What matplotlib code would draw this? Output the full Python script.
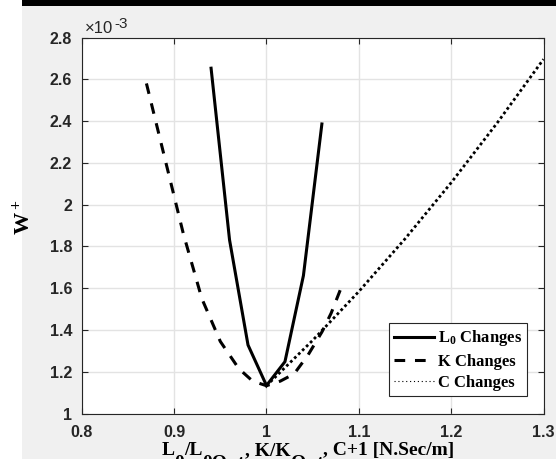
import matplotlib
matplotlib.use("Agg")
import matplotlib.pyplot as plt
from matplotlib.lines import Line2D
from matplotlib.patches import Rectangle
from matplotlib.transforms import IdentityTransform

# ---- data (W+ in units of 1e-3) ----
L0_x = [0.94, 0.96, 0.98, 1.00, 1.02, 1.04, 1.06]
L0_y = [2.653, 1.831, 1.328, 1.134, 1.248, 1.660, 2.386]

K_x = [0.87, 0.91, 0.93, 0.95, 0.97, 0.985, 1.0, 1.015, 1.03, 1.045, 1.06, 1.07, 1.083]
K_y = [2.58, 1.86, 1.55, 1.345, 1.215, 1.155, 1.133, 1.155, 1.19, 1.28, 1.39, 1.48, 1.626]

C_x = [1.0, 1.05, 1.1, 1.15, 1.2, 1.25, 1.3]
C_y = [1.133, 1.35, 1.584, 1.836, 2.105, 2.392, 2.696]

x_ticks = [0.8, 0.9, 1.0, 1.1, 1.2, 1.3]
x_ticklabels = ["0.8", "0.9", "1", "1.1", "1.2", "1.3"]
y_ticks = [1.0, 1.2, 1.4, 1.6, 1.8, 2.0, 2.2, 2.4, 2.6, 2.8]
y_ticklabels = ["1", "1.2", "1.4", "1.6", "1.8", "2", "2.2", "2.4", "2.6", "2.8"]
legend_labels = [r"L$_0$ Changes", "K Changes", "C Changes"]
# x label pieces: (text, is_subscript)
xlabel_parts = [("L", False), ("0", True), ("/L", False), ("0Opt", True),
                (", K/K", False), ("Opt", True), (", C+1 [N.Sec/m]", False)]

plt.rcParams["mathtext.fontset"] = "custom"
plt.rcParams["mathtext.rm"] = "Liberation Serif:bold"
plt.rcParams["mathtext.it"] = "Liberation Serif:bold"
plt.rcParams["mathtext.bf"] = "Liberation Serif:bold"

W, H = 556, 459
fig = plt.figure(figsize=(W / 100, H / 100), dpi=100)
fig.patch.set_facecolor("#f0f0f0")
fig.patches.append(Rectangle((0, 0), 21.7 / W, 1, transform=fig.transFigure,
                             facecolor="white", edgecolor="none", zorder=-10))
fig.patches.append(Rectangle((21.7 / W, 1 - 6 / H), 1, 6 / H, transform=fig.transFigure,
                             facecolor="black", edgecolor="none", zorder=-10))

ax = fig.add_axes([81.8 / W, 1 - 413.5 / H, (543.5 - 81.8) / W, (413.5 - 37.5) / H])
ax.set_facecolor("white")

lw = 2.2
dash = (0, (3.5, 3.2))
ax.plot(L0_x, L0_y, color="black", lw=lw, linestyle="-", solid_joinstyle="miter")
ax.plot(K_x, K_y, color="black", lw=lw, linestyle=dash)
ax.plot(C_x, C_y, color="black", lw=2.0, linestyle=(0, (1.0, 1.0)))

ax.set_xlim(0.8, 1.3)
ax.set_ylim(1.0, 2.8)
ax.set_xticks(x_ticks)
ax.set_xticklabels(x_ticklabels)
ax.set_yticks(y_ticks)
ax.set_yticklabels(y_ticklabels)

ax.grid(True, color="#e3e3e3", lw=1.0)
ax.set_axisbelow(True)
for s in ax.spines.values():
    s.set_color("#262626")
    s.set_linewidth(0.8)
ax.tick_params(direction="in", length=4, width=0.8, color="#262626",
               top=True, right=True, labelcolor="#262626")
ax.tick_params(axis="y", pad=7)
ax.tick_params(axis="x", pad=8)
for lab in ax.get_xticklabels() + ax.get_yticklabels():
    lab.set_fontfamily("Liberation Sans")
    lab.set_fontweight("bold")
    lab.set_fontsize(11.5)

# exponent label
fig.text(85 / W, 1 - 33 / H, "\u00d710", fontfamily="Liberation Sans",
         fontsize=12, color="#262626", ha="left", va="baseline")
fig.text(114 / W, 1 - 27.5 / H, "-3", fontfamily="Liberation Sans",
         fontsize=11, color="#262626", ha="left", va="baseline")

# x label built from pieces (subscripts at full size, shifted down)
renderer = fig.canvas.get_renderer()
base_size = 14
sub_drop = 13  # px
baseline_px = H - 455
pieces = []
for txt, sub in xlabel_parts:
    t = fig.text(0, 0, txt, transform=IdentityTransform(), fontfamily="Liberation Serif",
                 fontweight="bold", fontsize=base_size, color="black",
                 ha="left", va="baseline")
    pieces.append((t, sub, t.get_window_extent(renderer).width))
total = sum(w for _, _, w in pieces)
x0 = 308 - total / 2
for t, sub, w in pieces:
    t.set_position((x0, baseline_px - (sub_drop if sub else 0)))
    x0 += w

ax.set_ylabel(r"W$^+$", fontfamily="Liberation Serif", fontweight="bold",
              fontsize=16, color="black")
ax.yaxis.set_label_coords(-0.103, 0.5226)

handles = [
    Line2D([], [], color="black", lw=lw, linestyle="-"),
    Line2D([], [], color="black", lw=lw, linestyle=dash),
    Line2D([], [], color="black", lw=0.8, linestyle=(0, (1.0, 2.5))),
]
leg = ax.legend(handles, legend_labels, loc="lower right",
                bbox_to_anchor=(0.9636, 0.0465), frameon=True, fancybox=False,
                framealpha=1, edgecolor="#262626", handlelength=2.4,
                handletextpad=0.2, labelspacing=0.32, borderpad=0.3,
                borderaxespad=0.0,
                prop={"family": "Liberation Serif", "weight": "bold", "size": 12})
leg.get_frame().set_linewidth(0.8)

fig.savefig("out.png", dpi=100, facecolor=fig.get_facecolor())
